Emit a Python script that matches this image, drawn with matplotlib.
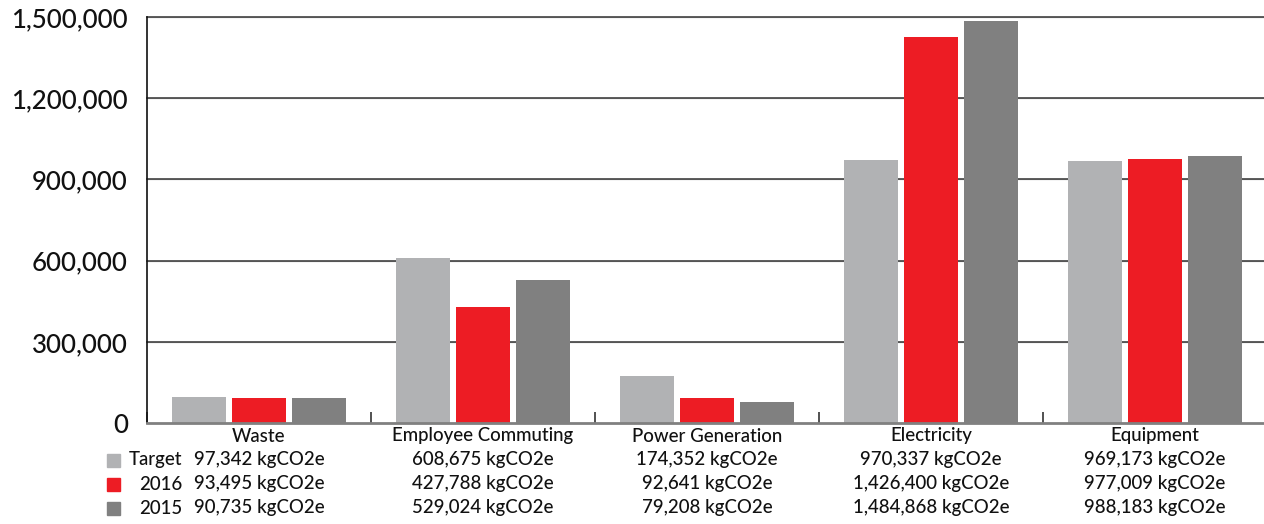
import matplotlib
matplotlib.use("Agg")
import matplotlib.pyplot as plt
from matplotlib.patches import Rectangle
import numpy as np

categories = ["Waste", "Employee Commuting", "Power Generation", "Electricity", "Equipment"]
series_names = ["Target", "2016", "2015"]
target = [97342, 608675, 174352, 970337, 969173]
y2016 = [93495, 427788, 92641, 1426400, 977009]
y2015 = [90735, 529024, 79208, 1484868, 988183]
colors = ["#b1b2b4", "#ed1c24", "#808080"]
yticks = [0, 300000, 600000, 900000, 1200000, 1500000]

plt.rcParams['font.family'] = ['Lato', 'DejaVu Sans']

W, H = 1264, 524
fig = plt.figure(figsize=(W / 100, H / 100), dpi=100)
ax = fig.add_axes([147 / W, 101 / H, 1120 / W, 406 / H])

series = [target, y2016, y2015]
x = np.arange(len(categories))
bw = 0.241
offs = [-0.266, 0.0, 0.266]
for s, vals, c, o in zip(series_names, series, colors, offs):
    ax.bar(x + o, vals, width=bw, color=c, zorder=3)

ax.set_xlim(-0.5, len(categories) - 0.5)
ax.set_ylim(0, 1500000)
ax.set_yticks(yticks)
ax.set_yticklabels([f"{v:,}" for v in yticks], fontsize=18.6, color="#111111", fontweight='medium')
for v in yticks[1:]:
    ax.axhline(v, color="#c8c8c8", lw=1.0, zorder=1, clip_on=False)
    ax.axhline(v, color="#333333", lw=1.1, zorder=2, clip_on=False)

ax.set_xticks(np.arange(len(categories) + 1) - 0.5)
ax.set_xticklabels([])
ax.tick_params(axis='x', direction='in', length=8, width=1.2, color="#333333")
ax.tick_params(axis='y', length=0, pad=13.7)
for sp in ["top", "right"]:
    ax.spines[sp].set_visible(False)
ax.spines["left"].set_color("#111111")
ax.spines["left"].set_linewidth(1.2)
ax.spines["bottom"].set_color("#808080")
ax.spines["bottom"].set_linewidth(2)
ax.spines["bottom"].set_zorder(4)

tr = ax.get_xaxis_transform()
def ypos(py):
    return (423 - py) / 406

fs = 13.4
for i, cat in enumerate(categories):
    ax.text(i, ypos(436), cat, ha='center', va='center', fontsize=fs, transform=tr,
            color="#111111", fontweight='medium')
    for r, vals in enumerate(series):
        ax.text(i, ypos(460 + 24 * r), f"{vals[i]:,} kgCO2e", ha='center', va='center',
                fontsize=fs, transform=tr, color="#111111", fontweight='medium')

for r, (name, c) in enumerate(zip(series_names, colors)):
    py = 460 + 24 * r
    fig.patches.append(Rectangle((107 / W, (H - py - 7) / H), 13 / W, 13 / H,
                                 transform=fig.transFigure, color=c, figure=fig))
    fig.text(182 / W, (H - py) / H, name, ha='right', va='center', fontsize=fs,
             color="#111111", fontweight='medium')

fig.savefig("out.png", dpi=100)
